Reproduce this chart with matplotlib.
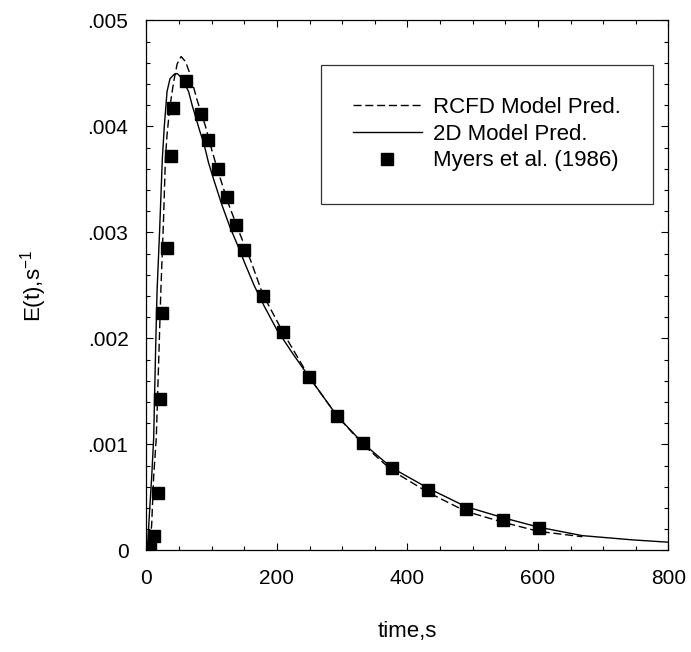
import numpy as np
import matplotlib
matplotlib.use("Agg")
import matplotlib.pyplot as plt
from matplotlib.ticker import MultipleLocator, FuncFormatter

plt.rcParams['font.family'] = ['Liberation Sans', 'DejaVu Sans']

# RCFD model prediction (dashed)
t_rcfd = [0, 5, 8, 11, 15, 18, 22, 26, 29, 31.5, 35.5, 41.6, 47, 53, 60, 67, 77, 90,
          100, 110, 125, 143.6, 160, 178, 209, 250, 292, 332, 376, 431, 489, 546, 601, 668]
e_rcfd = [0, 0.00002, 0.00025, 0.0007, 0.00106, 0.00165, 0.00245, 0.0031, 0.0037, 0.00392,
          0.00417, 0.00442, 0.00459, 0.00466, 0.00461, 0.00449, 0.00426, 0.00401, 0.00378,
          0.00357, 0.00328, 0.00298, 0.00273, 0.00242, 0.00206, 0.00163, 0.00127, 0.00100,
          0.000755, 0.00055, 0.00037, 0.000267, 0.00018, 0.00013]

# 2D model prediction (solid)
t_2d = [0, 2, 5, 8, 11, 14, 16.2, 20, 24.3, 27.4, 31.5, 36, 42, 47, 52, 57, 64.5, 70, 74.8,
        82, 87.5, 95, 103, 115, 128, 141, 150, 165, 180, 200, 225, 250, 292, 332, 376, 431,
        489, 546, 601, 668, 745, 800]
e_2d = [0, 0.00008, 0.0004, 0.0007, 0.00106, 0.0019, 0.00245, 0.0030, 0.0037, 0.00401,
        0.00433, 0.00445, 0.00449, 0.0045, 0.00447, 0.00442, 0.00433, 0.0042, 0.0041,
        0.00395, 0.00385, 0.00366, 0.0035, 0.00327, 0.00305, 0.00286, 0.00272, 0.0025,
        0.00231, 0.00208, 0.00185, 0.00163, 0.00127, 0.00101, 0.00078, 0.00059, 0.000415,
        0.00031, 0.00022, 0.00014, 0.0001, 0.000078]

# Myers et al. (1986) measurements
t_exp = [5, 11.5, 17.5, 20.5, 23.8, 31.5, 37.6, 40, 61, 83.5, 95, 109, 123, 137, 149, 178,
         209, 249, 292, 332, 376, 431, 489, 546, 601]
e_exp = [0.00001, 0.00014, 0.00054, 0.00143, 0.00224, 0.00285, 0.00372, 0.00417, 0.00443,
         0.00412, 0.00387, 0.0036, 0.00333, 0.00307, 0.00283, 0.0024, 0.00206, 0.00164,
         0.00127, 0.00101, 0.00078, 0.00057, 0.00039, 0.00029, 0.00021]

fig = plt.figure(figsize=(6.91, 6.52), dpi=100)
ax = fig.add_axes([0.212, 0.1557, 0.7554, 0.8129])

ax.plot(t_rcfd, e_rcfd, color='black', lw=1.0, dashes=(5.8, 2.7), label='RCFD Model Pred.')
ax.plot(t_2d, e_2d, color='black', lw=1.0, label='2D Model Pred.')
ax.plot(t_exp, e_exp, ls='none', marker='s', ms=8.5, color='black', label='Myers et al. (1986)')

ax.set_xlim(0, 800)
ax.set_ylim(0, 0.005)
ax.xaxis.set_major_locator(MultipleLocator(200))
ax.xaxis.set_minor_locator(MultipleLocator(50))
ax.yaxis.set_major_locator(MultipleLocator(0.001))
ax.yaxis.set_minor_locator(MultipleLocator(0.0002))

def ylab(v, pos):
    if abs(v) < 1e-12:
        return '0'
    return ('%.3f' % v).lstrip('0')

ax.yaxis.set_major_formatter(FuncFormatter(ylab))
ax.tick_params(which='both', direction='in', top=True, right=True, width=0.8, labelsize=15, pad=13)
ax.tick_params(which='major', length=5)
ax.tick_params(which='minor', length=3)
for s in ax.spines.values():
    s.set_linewidth(0.9)

ax.set_xlabel('time,s', fontsize=16, labelpad=24)
ax.set_ylabel('E(t),s$^{\\mathregular{-1}}$', fontsize=16, labelpad=28)

leg = ax.legend(loc='upper right', bbox_to_anchor=(0.9703, 0.916), fontsize=16,
                frameon=True, fancybox=False, edgecolor='black', borderpad=1.45,
                handlelength=3.1, handletextpad=0.5, labelspacing=0.25, borderaxespad=0)
leg.get_frame().set_linewidth(0.9)

fig.savefig('out.png', dpi=100)
